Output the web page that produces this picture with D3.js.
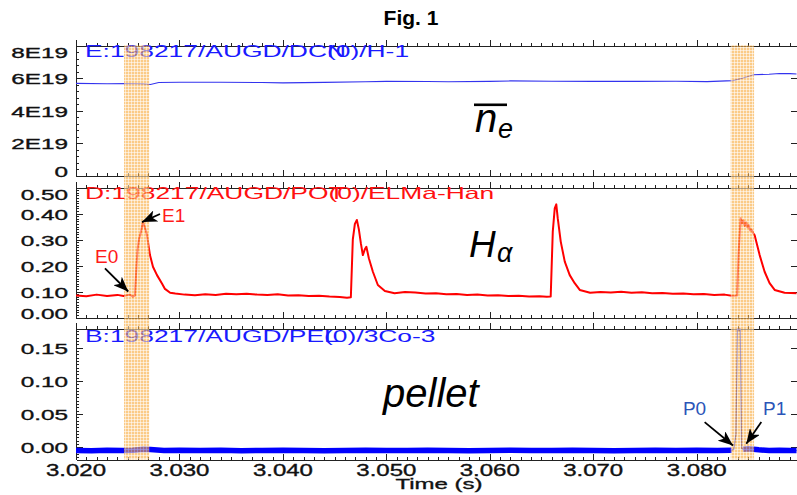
<!DOCTYPE html>
<html>
<head>
<meta charset="utf-8">
<script src="https://cdn.jsdelivr.net/npm/d3@7"></script>
<style>
  body { margin: 0; background: #fff; }
  svg { display: block; font-family: "Liberation Sans", Arial, sans-serif; }
  .axis path, .axis line { stroke: #222; stroke-width: 1; shape-rendering: crispEdges; }
  .idl { stroke-width: 0.35; }
</style>
</head>
<body>
<svg class="chart" width="797" height="495"></svg>
<script>
// ---- data ----
var timeTicks = [3.02, 3.03, 3.04, 3.05, 3.06, 3.07, 3.08];
var neTicks = [0, 2, 4, 6, 8];                 // units of 1E19
var haTicks = [0, 0.1, 0.2, 0.3, 0.4, 0.5];
var pelTicks = [0, 0.05, 0.10, 0.15];

// shaded windows (s)
var bandStart = [3.02464, 3.08329];
var bandEnd   = [3.02708, 3.08555];

// line-averaged density, 1E19 m^-3
var neT = [3.0200, 3.0230, 3.0250, 3.0265, 3.0272, 3.0280, 3.0300, 3.0340, 3.0380, 3.0400, 3.0440, 3.0480,
           3.0500, 3.0540, 3.0560, 3.0600, 3.0620, 3.0660, 3.0700, 3.0740, 3.0780, 3.0810, 3.0835, 3.0845,
           3.0855, 3.0870, 3.0880, 3.0890, 3.0897];
var neV = [5.67, 5.65, 5.66, 5.64, 5.60, 5.72, 5.74, 5.74, 5.72, 5.70, 5.73, 5.77,
           5.79, 5.78, 5.77, 5.79, 5.82, 5.80, 5.79, 5.79, 5.80, 5.78, 5.84, 6.00,
           6.20, 6.23, 6.28, 6.27, 6.25];

// H-alpha
var haT = [3.0200, 3.0210, 3.0220, 3.0230, 3.0240, 3.0246, 3.0252, 3.0255, 3.0257, 3.02585, 3.02595, 3.02609,
           3.02628, 3.02647, 3.02667, 3.02686, 3.02715, 3.02744, 3.02783, 3.02831, 3.0286, 3.0291, 3.0296, 3.0305,
           3.0315, 3.0325, 3.0335, 3.0345, 3.0355, 3.0365, 3.0375, 3.0385, 3.0395, 3.0405, 3.0415, 3.0425,
           3.0435, 3.0445, 3.0455, 3.0462, 3.04657, 3.04676, 3.04696, 3.04715, 3.04734, 3.04754, 3.04773, 3.04792,
           3.04807, 3.04831, 3.0487, 3.04918, 3.04986, 3.0508, 3.0518, 3.0528, 3.0538, 3.0548, 3.0558, 3.0568,
           3.0578, 3.0588, 3.0598, 3.0608, 3.0618, 3.0628, 3.0638, 3.0648, 3.0655, 3.06589, 3.06609, 3.06628,
           3.06643, 3.06657, 3.06686, 3.06725, 3.06773, 3.06821, 3.0687, 3.0697, 3.0707, 3.0717, 3.0727, 3.0737,
           3.0747, 3.0757, 3.0767, 3.0777, 3.0787, 3.0797, 3.0807, 3.0817, 3.0827, 3.0834, 3.08391, 3.08406,
           3.08425, 3.08438, 3.0845, 3.08464, 3.08478, 3.0849, 3.08502, 3.08517, 3.08531, 3.08545, 3.0856, 3.08609,
           3.08657, 3.08705, 3.08754, 3.0885, 3.0897];
var haV = [0.085, 0.082, 0.088, 0.083, 0.087, 0.083, 0.088, 0.080, 0.084, 0.200, 0.260, 0.300,
           0.330, 0.366, 0.345, 0.318, 0.240, 0.195, 0.163, 0.131, 0.110, 0.095, 0.092, 0.088,
           0.086, 0.089, 0.087, 0.091, 0.089, 0.091, 0.088, 0.087, 0.089, 0.085, 0.086, 0.083,
           0.084, 0.081, 0.079, 0.076, 0.078, 0.300, 0.360, 0.375, 0.340, 0.285, 0.240, 0.262,
           0.272, 0.228, 0.176, 0.125, 0.102, 0.093, 0.098, 0.096, 0.092, 0.093, 0.089, 0.090,
           0.087, 0.088, 0.085, 0.086, 0.083, 0.084, 0.081, 0.082, 0.080, 0.081, 0.330, 0.420,
           0.435, 0.382, 0.292, 0.215, 0.163, 0.132, 0.106, 0.095, 0.098, 0.096, 0.099, 0.095,
           0.097, 0.093, 0.094, 0.091, 0.092, 0.089, 0.090, 0.087, 0.088, 0.084, 0.085, 0.250,
           0.382, 0.362, 0.374, 0.352, 0.366, 0.347, 0.356, 0.335, 0.338, 0.325, 0.317, 0.240,
           0.176, 0.132, 0.106, 0.095, 0.093];

// pellet monitor
var pelT = [3.0200, 3.0215, 3.0230, 3.0245, 3.0255, 3.0265, 3.0272, 3.0285, 3.0300, 3.0320, 3.0340, 3.0360,
            3.0380, 3.0400, 3.0420, 3.0440, 3.0460, 3.0480, 3.0500, 3.0520, 3.0540, 3.0560, 3.0580, 3.0600,
            3.0620, 3.0640, 3.0660, 3.0680, 3.0700, 3.0720, 3.0740, 3.0760, 3.0780, 3.0800, 3.0820, 3.0834,
            3.0836, 3.0838, 3.08395, 3.0841, 3.0842, 3.08435, 3.0845, 3.0850, 3.0855, 3.0860, 3.0870, 3.0880,
            3.0890, 3.0897];
var pelV = [-0.005, -0.0055, -0.0045, -0.005, -0.0045, -0.003, -0.0035, -0.005, -0.0045, -0.005, -0.0045, -0.0055,
            -0.005, -0.0045, -0.005, -0.0055, -0.005, -0.0045, -0.005, -0.005, -0.0045, -0.005, -0.0055, -0.005,
            -0.0045, -0.005, -0.005, -0.0045, -0.005, -0.0055, -0.005, -0.0045, -0.005, -0.0045, -0.005, -0.0045,
            -0.003, 0.020, 0.190, 0.175, 0.190, -0.002, -0.003, -0.0025, -0.003, -0.004, -0.005, -0.0045,
            -0.005, -0.005];

// annotations: label, tip (t,v), tail (t,v), label anchor (t,v)
var elmNotes = [
  { label: "E0", tip: [3.02505, 0.100], tail: [3.0228, 0.189], at: [3.02184, 0.210] },
  { label: "E1", tip: [3.02638, 0.367], tail: [3.02812, 0.398], at: [3.02831, 0.369] }
];
var pelNotes = [
  { label: "P0", tip: [3.08351, 0.0026], tail: [3.08077, 0.0378], at: [3.07867, 0.0479] },
  { label: "P1", tip: [3.0848, 0.0051], tail: [3.08625, 0.0378], at: [3.08641, 0.0479] }
];

// ---- drawing ----
var svg = d3.select("svg.chart");
var W = 797, left = 76, right = 796.5;
var x = d3.scaleLinear().domain([3.02, 3.0897]).range([left, W]);

var defs = svg.append("defs");
var pat = defs.append("pattern").attr("id", "grid").attr("patternUnits", "userSpaceOnUse")
  .attr("width", 3).attr("height", 3);
pat.append("rect").attr("width", 3).attr("height", 3).attr("fill", "#f8ab3e");
pat.append("rect").attr("x", 2).attr("width", 1).attr("height", 3).attr("fill", "#fff").attr("opacity", 0.55);
pat.append("rect").attr("y", 2).attr("width", 3).attr("height", 1).attr("fill", "#fff").attr("opacity", 0.55);

defs.append("marker").attr("id", "head").attr("markerUnits", "userSpaceOnUse")
  .attr("markerWidth", 16).attr("markerHeight", 12).attr("refX", 15).attr("refY", 6)
  .attr("orient", "auto")
  .append("path").attr("d", "M0,0 L15,6 L0,12 L4,6 z").attr("fill", "#000");

var xMinor = d3.range(3.020, 3.0897, 0.001);
var tickFont = 15, tickScale = 1.62;

function panel(p) {
  var y = d3.scaleLinear().domain(p.domain).range([p.bottom, p.top]);
  var g = svg.append("g");

  // left axis, major + minor
  var la = g.append("g").attr("class", "axis").attr("transform", "translate(" + left + ",0)")
    .call(d3.axisLeft(y).tickValues(p.ticks).tickSize(-7).tickSizeOuter(0).tickFormat(p.fmt));
  la.selectAll(".tick text")
    .attr("x", 0).attr("dy", null)
    .attr("class", "idl").attr("fill", "#111").attr("stroke", "#111")
    .style("font-size", tickFont + "px")
    .attr("transform", function(d) {
      var yy = Math.max(p.top + 6, Math.min(p.bottom - 5, y(d))) - y(d);
      return "translate(-8," + (yy + 5.5) + ") scale(" + tickScale + ",1)";
    });
  g.append("g").attr("class", "axis").attr("transform", "translate(" + left + ",0)")
    .call(d3.axisLeft(y).tickValues(p.minor).tickSize(-3).tickSizeOuter(0).tickFormat(""));
  // right axis
  g.append("g").attr("class", "axis").attr("transform", "translate(" + right + ",0)")
    .call(d3.axisRight(y).tickValues(p.ticks).tickSize(-6).tickSizeOuter(0).tickFormat(""));

  // top and bottom time axes
  [["axisTop", p.top, 6], ["axisBottom", p.bottom, -6]].forEach(function(a) {
    g.append("g").attr("class", "axis").attr("transform", "translate(0," + a[1] + ")")
      .call(d3[a[0]](x).tickValues(timeTicks).tickSize(a[2]).tickSizeOuter(0).tickFormat(""));
    g.append("g").attr("class", "axis").attr("transform", "translate(0," + a[1] + ")")
      .call(d3[a[0]](x).tickValues(xMinor).tickSize(a[2] / 2).tickSizeOuter(0).tickFormat(""));
  });

  var clipId = "clip" + p.id;
  defs.append("clipPath").attr("id", clipId).append("rect")
    .attr("x", left).attr("y", p.top).attr("width", right - left).attr("height", p.bottom - p.top);
  p.y = y;
  p.plot = g.append("g").attr("clip-path", "url(#" + clipId + ")");
  return p;
}

function series(t, v) { return t.map(function(d, i) { return { t: d, v: v[i] }; }); }

var p1 = panel({ id: 1, top: 45.5, bottom: 175.5, domain: [0, 8], ticks: neTicks,
  minor: d3.range(0, 8.01, 0.4), fmt: function(d) { return d === 0 ? "0" : d + "E19"; } });
var p2 = panel({ id: 2, top: 187.5, bottom: 317.5, domain: [0, 0.5], ticks: haTicks,
  minor: d3.range(0, 0.501, 0.01), fmt: d3.format(".2f") });
var p3 = panel({ id: 3, top: 328.5, bottom: 459.5, domain: [-0.0186, 0.179], ticks: pelTicks,
  minor: d3.range(-0.015, 0.179, 0.005), fmt: d3.format(".2f") });

// x tick labels on the bottom panel
svg.append("g").selectAll("text").data(timeTicks).enter().append("text")
  .attr("transform", function(d) { return "translate(" + x(d) + ",475.5) scale(1.5,1)"; })
  .attr("text-anchor", "middle").style("font-size", "16px")
  .attr("class", "idl").attr("fill", "#111").attr("stroke", "#111")
  .text(d3.format(".3f"));
svg.append("text").attr("transform", "translate(439,488.5) scale(1.6,1)")
  .attr("text-anchor", "middle").style("font-size", "15px")
  .attr("class", "idl").attr("fill", "#111").attr("stroke", "#111").text("Time (s)");

// traces
function lineFor(p) {
  return d3.line().x(function(d) { return x(d.t); }).y(function(d) { return p.y(d.v); });
}
p1.plot.append("path").datum(series(neT, neV)).attr("d", lineFor(p1))
  .attr("fill", "none").attr("stroke", "#3333ee").attr("stroke-width", 1.1);
p2.plot.append("path").datum(series(haT, haV)).attr("d", lineFor(p2))
  .attr("fill", "none").attr("stroke", "#ff0000").attr("stroke-width", 2).attr("stroke-linejoin", "round");
var pel = series(pelT, pelV);
p3.plot.append("path").datum(pel).attr("d", lineFor(p3))
  .attr("fill", "none").attr("stroke", "#2a2ad0").attr("stroke-width", 1.2);
p3.plot.append("path").datum(pel)
  .attr("d", lineFor(p3).defined(function(d) { return d.v < 0.01 && (d.t < 3.0835 || d.t > 3.0844); }))
  .attr("fill", "none").attr("stroke", "#0000ff").attr("stroke-width", 5.5);

// signal names (IDL style, last character overprinted by "(0)")
var names = [
  { pre: "E:198217/AUGD/DCN", post: "(0)/H-1", y: 57, color: "#1a1aff" },
  { pre: "D:198217/AUGD/POT", post: "(0)/ELMa-Han", y: 199, color: "#ff1010" },
  { pre: "B:198217/AUGD/PEL", post: "(0)/3Co-3", y: 341.5, color: "#1a1aff" }
];
names.forEach(function(n) {
  var g = svg.append("g").attr("transform", "translate(85," + n.y + ") scale(1.6,1)")
    .style("font-size", "16.5px").attr("fill", n.color);
  g.append("text").text(n.pre);
  var tmp = g.append("text").text(n.pre.slice(0, -1));
  var off = tmp.node().getComputedTextLength();
  tmp.remove();
  g.append("text").attr("x", off).text(n.post);
});

// shaded windows across all three panels
svg.append("g").attr("opacity", 0.62).selectAll("rect")
  .data(bandStart).enter().append("rect")
  .attr("x", function(d) { return x(d); })
  .attr("width", function(d, i) { return x(bandEnd[i]) - x(d); })
  .attr("y", p1.top).attr("height", p3.bottom - p1.top)
  .attr("fill", "url(#grid)");

// arrows + labels
function notes(p, list, color) {
  list.forEach(function(n) {
    svg.append("line")
      .attr("x1", x(n.tail[0])).attr("y1", p.y(n.tail[1]))
      .attr("x2", x(n.tip[0])).attr("y2", p.y(n.tip[1]))
      .attr("stroke", "#000").attr("stroke-width", 1.8).attr("marker-end", "url(#head)");
    svg.append("text").attr("x", x(n.at[0])).attr("y", p.y(n.at[1]))
      .style("font-size", "19px").attr("fill", color).text(n.label);
  });
}
notes(p2, elmNotes, "#ff1a1a");
notes(p3, pelNotes, "#2b55b8");

// big symbols
var big = svg.append("g").attr("fill", "#000").style("font-style", "italic");
big.append("text").attr("x", 475).attr("y", 131.5).style("font-size", "40px").text("n");
big.append("text").attr("x", 498).attr("y", 138).style("font-size", "27px").text("e");
big.append("rect").attr("x", 474).attr("y", 103.5).attr("width", 33).attr("height", 2.6);
big.append("text").attr("x", 469).attr("y", 256.7).style("font-size", "37px").text("H");
big.append("text").attr("x", 497).attr("y", 262).style("font-size", "27px").text("α");
big.append("text").attr("x", 383).attr("y", 407).style("font-size", "40px").text("pellet");

// title
svg.append("text").attr("x", 411).attr("y", 25).attr("text-anchor", "middle")
  .style("font-size", "21px").style("font-weight", "bold").text("Fig. 1");
</script>
</body>
</html>
